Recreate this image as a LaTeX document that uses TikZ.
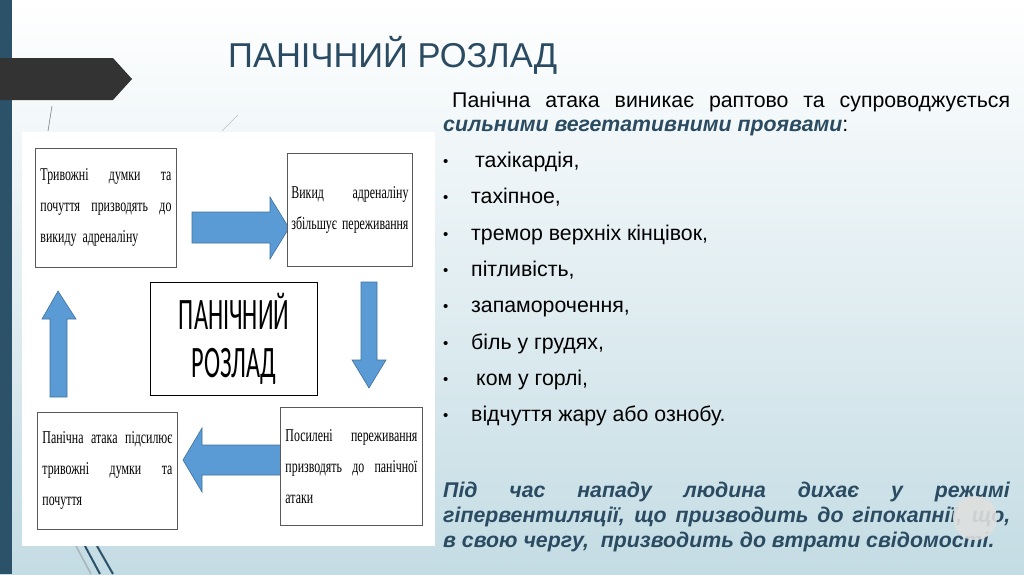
\documentclass[tikz,border=0pt]{standalone}
\usepackage{fontspec}
\setmainfont{Liberation Sans}
\newfontfamily\boxfont[FakeStretch=0.66]{Liberation Serif}
\newfontfamily\labelfont[FakeStretch=0.54]{Carlito}
\definecolor{slate}{RGB}{42,75,97}
\definecolor{sidebar}{RGB}{44,82,106}
\definecolor{arrowfill}{RGB}{91,155,213}
\definecolor{arrowline}{RGB}{65,113,156}
\definecolor{bgblue}{RGB}{196,220,228}
\tikzset{
  stagebox/.style={draw=black!65, line width=0.9pt, fill=white, inner xsep=5pt, inner ysep=0pt,
    align=left, anchor=north west, font=\boxfont\fontsize{18}{31}\selectfont},
  blockarrow/.style={fill=arrowfill, draw=arrowline, line width=0.6pt},
  slidetext/.style={anchor=base west, inner sep=0pt, font=\fontsize{21.3}{25}\selectfont},
}
\begin{document}
\begin{tikzpicture}[x=1pt, y=-1pt]

  % --- фон слайда ---
  \useasboundingbox (0,0) rectangle (1024,574);
  \shade[top color=white, bottom color=bgblue] (0,0) rectangle (1024,574);
  \fill[sidebar] (0,0) rectangle (12,574);
  \fill[black!80] (0,58) -- (113,58) -- (132,79) -- (113,100) -- (0,100) -- cycle;
  \draw[black!50, line width=0.6pt] (52,106) -- (48,131);
  \draw[black!25, line width=0.6pt] (238,115) -- (222,131);
  \draw[bgblue!60!gray, line width=1.6pt] (76,546) -- (91,574);
  \draw[sidebar, line width=2pt] (85,546) -- (100,574);
  \draw[sidebar, line width=2pt] (97,546) -- (113,574);

  % --- заголовок ---
  \node[anchor=base west, inner sep=0pt, text=slate, font=\fontsize{34.5}{40}\selectfont]
    (title) at (228,67) {ПАНІЧНИЙ РОЗЛАД};

  % --- схема: біле поле ---
  \fill[white] (22,132) rectangle (435,546);

  % блокові стрілки
  \draw[blockarrow] (192,212) -- (270,212) -- (270,197) -- (289,228) -- (270,259) -- (270,243) -- (192,243) -- cycle;
  \draw[blockarrow] (361,282) -- (377,282) -- (377,360) -- (386,360) -- (369,388) -- (352,360) -- (361,360) -- cycle;
  \draw[blockarrow] (282,445) -- (202,445) -- (202,428) -- (183,460) -- (202,492) -- (202,475) -- (282,475) -- cycle;
  \draw[blockarrow] (50,397) -- (50,319) -- (42,319) -- (58,291) -- (76,319) -- (67,319) -- (67,397) -- cycle;

  % етапи
  \node[stagebox, text width=131pt, minimum height=119pt] (thoughts) at (35,148)
    {Тривожні\hfill думки\hfill та\\почуття\hfill призводять\hfill до\\викиду адреналіну};
  \node[stagebox, inner xsep=4pt, text width=117pt, minimum height=113pt] (adrenaline) at (287,153)
    {Викид\hfill адреналіну\\збільшує\hfill переживання};
  \node[stagebox, text width=132pt, minimum height=118pt] (feelings) at (280,407)
    {Посилені\hfill переживання\\призводять\hfill до\hfill панічної\\атаки};
  \node[stagebox, text width=130pt, minimum height=117pt] (attack) at (37,412)
    {Панічна\hfill атака\hfill підсилює\\тривожні\hfill думки\hfill та\\почуття};

  % центр
  \node[draw=black, line width=1.2pt, fill=white, anchor=north west, minimum width=167pt,
    minimum height=113pt, align=center, font=\labelfont\fontsize{45}{48}\selectfont]
    (disorder) at (150,282) {ПАНІЧНИЙ\\РОЗЛАД};

  % --- текст праворуч ---
  \node[slidetext] (intro1) at (452,107)
    {\makebox[558pt][s]{Панічна атака виникає раптово та супроводжується}};
  \node[slidetext] (intro2) at (443,131)
    {\textcolor{slate}{\textbf{\textit{сильними вегетативними проявами}}}:};

  \foreach \y/\dx/\sign [count=\i] in {167/4/{тахікардія,}, 203/0/{тахіпное,},
      240/0/{тремор верхніх кінцівок,}, 276/0/{пітливість,}, 312/0/{запаморочення,},
      349/0/{біль у грудях,}, 385/5/{ком у горлі,}, 421/0/{відчуття жару або ознобу.}} {
    \node[slidetext, font=\fontsize{15}{16}\selectfont] (dot\i) at (443,\y-1) {•};
    \node[slidetext] (sign\i) at (471+\dx,\y) {\sign};
  }

  \node[slidetext, text=slate] (breath1) at (443,497)
    {\makebox[567pt][s]{\textbf{\textit{Під час нападу людина дихає у режимі}}}};
  \node[slidetext, text=slate] (breath2) at (443,522)
    {\makebox[567pt][s]{\textbf{\textit{гіпервентиляції, що призводить до гіпокапнії, що,}}}};
  \node[slidetext, text=slate] (breath3) at (443,547)
    {\textbf{\textit{в свою чергу,\ \ призводить до втрати свідомості.}}};

  % пляма поверх тексту
  \fill[gray!25, opacity=0.9] (975,518) circle (22pt);

\end{tikzpicture}
\end{document}
